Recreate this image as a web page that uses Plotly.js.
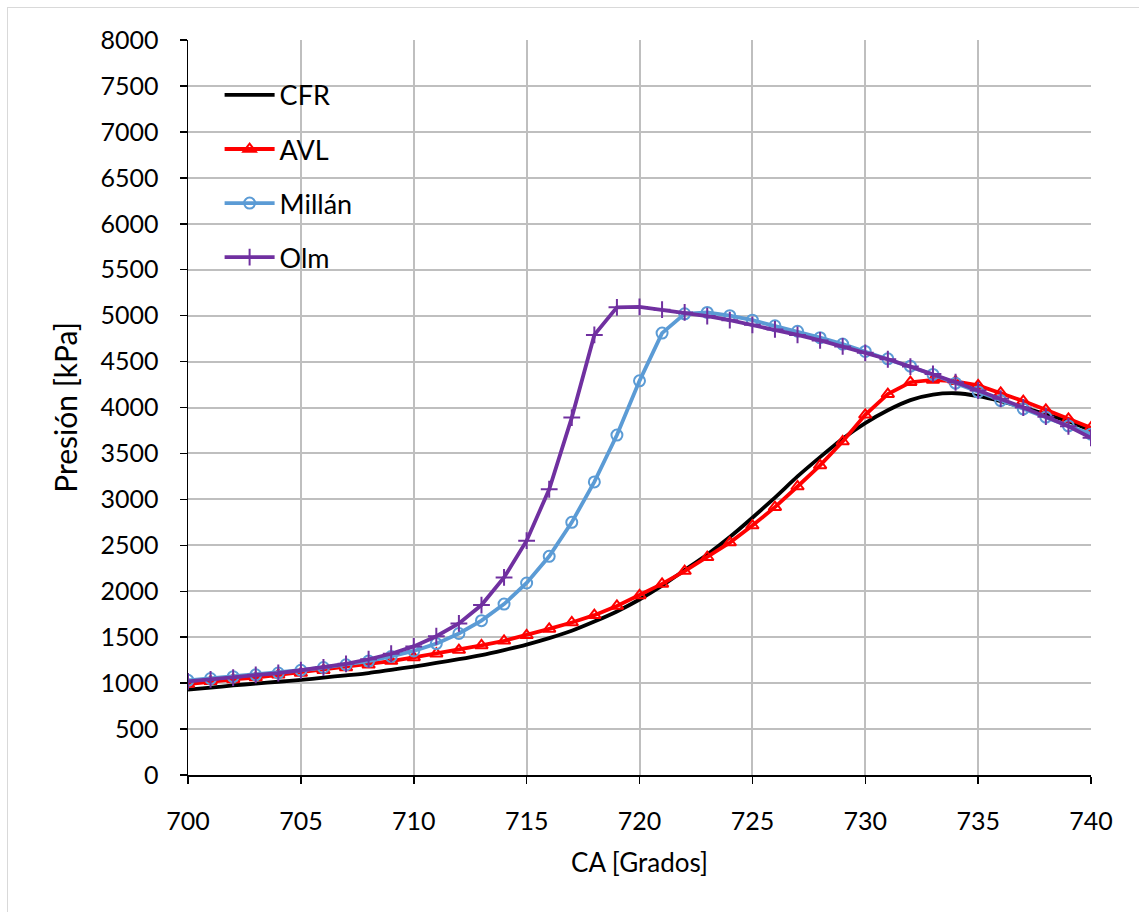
<!DOCTYPE html>
<html>
<head>
<meta charset="utf-8">
<script src="https://cdn.plot.ly/plotly-3.0.1.min.js"></script>
<style>
  html, body { margin: 0; padding: 0; background: #fff; }
  #wrap { position: relative; width: 1139px; height: 912px; }
  #chart { width: 1139px; height: 912px; }
  #frame { position: absolute; left: 7px; top: 7px; right: -2px; bottom: -2px; border: 1px solid #d9d9d9; pointer-events: none; }
</style>
</head>
<body>
<div id="wrap"><div id="chart"></div><div id="frame"></div></div>
<script>
const ca = [700,701,702,703,704,705,706,707,708,709,710,711,712,713,714,715,716,717,718,719,720,
            721,722,723,724,725,726,727,728,729,730,731,732,733,734,735,736,737,738,739,740];

const cfr = [930,950,975,995,1015,1035,1060,1085,1110,1145,1180,1220,1260,1305,1360,1420,1490,1570,1670,1780,1910,
             2060,2230,2400,2590,2800,3020,3250,3460,3660,3830,3970,4080,4140,4155,4125,4070,4000,3925,3850,3750];

const avl = [990,1020,1040,1060,1090,1110,1140,1170,1200,1240,1280,1320,1360,1410,1460,1520,1590,1660,1740,1840,1955,
             2080,2220,2370,2530,2715,2915,3140,3370,3630,3920,4145,4275,4300,4285,4240,4160,4070,3975,3875,3780];

const millan = [1030,1050,1070,1090,1110,1140,1170,1200,1240,1290,1350,1430,1540,1680,1860,2090,2380,2750,3190,3700,4290,
                4810,5020,5035,5000,4950,4890,4830,4760,4690,4610,4530,4450,4360,4265,4170,4075,3985,3895,3800,3710];

const olm = [1020,1040,1060,1090,1110,1140,1170,1210,1260,1320,1400,1510,1650,1850,2150,2550,3110,3890,4790,5090,5095,
             5065,5035,4995,4950,4900,4850,4790,4730,4665,4595,4525,4445,4365,4275,4185,4095,4000,3900,3795,3670];

const names = ['CFR', 'AVL', 'Millán', 'Olm'];
const yTicks = [0,500,1000,1500,2000,2500,3000,3500,4000,4500,5000,5500,6000,6500,7000,7500,8000];
const xTicks = [700,705,710,715,720,725,730,735,740];

const fontFam = 'Lato, "Open Sans", sans-serif';

const traces = [
  { x: ca, y: cfr, name: names[0], mode: 'lines', legendgroup: 'a',
    line: { color: '#000000', width: 3.8, shape: 'spline', smoothing: 0.6 } },
  { x: ca, y: avl, name: names[1], mode: 'lines+markers', legendgroup: 'b',
    line: { color: '#ff0000', width: 3.8 },
    marker: { symbol: 'triangle-up-open', size: 11, color: '#ff0000', line: { color: '#ff0000', width: 2 } } },
  { x: ca, y: millan, name: names[2], mode: 'lines+markers', legendgroup: 'c',
    line: { color: '#5b9bd5', width: 3.8 },
    marker: { symbol: 'circle-open', size: 11, color: '#5b9bd5', line: { color: '#5b9bd5', width: 2 } } },
  { x: ca, y: olm, name: names[3], mode: 'lines+markers', legendgroup: 'd',
    line: { color: '#7030a0', width: 3.8 },
    marker: { symbol: 'cross-thin-open', size: 12, color: '#7030a0', line: { color: '#7030a0', width: 2 } } }
];

const layout = {
  width: 1139, height: 912,
  margin: { l: 188, r: 48, t: 40, b: 137 },
  paper_bgcolor: '#ffffff', plot_bgcolor: '#ffffff',
  font: { family: fontFam, color: '#000000', size: 22 },
  showlegend: true,
  legend: {
    x: 0.035, y: 0.958, xanchor: 'left', yanchor: 'top',
    bgcolor: 'rgba(255,255,255,0)',
    font: { family: fontFam, size: 27, color: '#000000' },
    traceorder: 'grouped', tracegroupgap: 16, itemwidth: 50
  },
  xaxis: {
    range: [700, 740], tickvals: xTicks, ticktext: xTicks.map(String),
    showgrid: true, gridcolor: '#bfbfbf', gridwidth: 2,
    showline: true, linecolor: '#000000', linewidth: 1.5,
    ticks: 'outside', ticklen: 7, tickcolor: '#000000', tickwidth: 1.5,
    ticklabelstandoff: 16,
    tickfont: { family: fontFam, size: 25, color: '#000000' },
    zeroline: false,
    title: { text: 'CA [Grados]', font: { family: fontFam, size: 26, color: '#000000' }, standoff: 20 }
  },
  yaxis: {
    range: [0, 8000], tickvals: yTicks, ticktext: yTicks.map(String),
    showgrid: true, gridcolor: '#bfbfbf', gridwidth: 2,
    showline: true, linecolor: '#000000', linewidth: 1.5,
    ticks: 'outside', ticklen: 7, tickcolor: '#000000', tickwidth: 1.5,
    ticklabelstandoff: 16,
    tickfont: { family: fontFam, size: 25, color: '#000000' },
    zeroline: false,
    title: { text: 'Presión [kPa]', font: { family: fontFam, size: 30, color: '#000000' }, standoff: 14 }
  }
};

Plotly.newPlot('chart', traces, layout, { displayModeBar: false, staticPlot: true });
</script>
</body>
</html>
